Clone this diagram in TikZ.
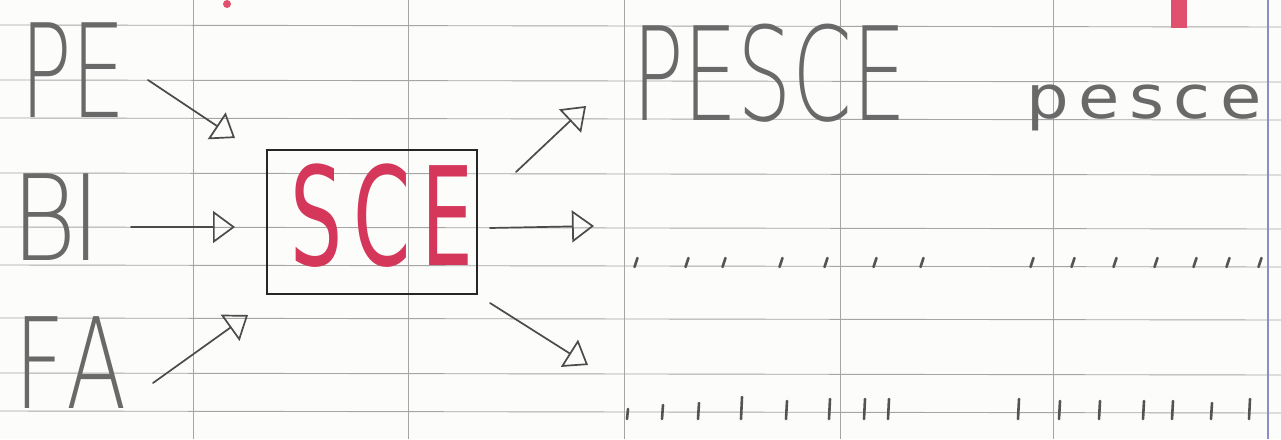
\documentclass[tikz,border=0pt]{standalone}
\usepackage{fontspec}
\usetikzlibrary{arrows.meta,calc}
\def\thinname{DejaVu Sans}
\IfFontExistsTF{Lato Light}{\def\thinname{Lato Light}}{}
\IfFontExistsTF{Fira Sans Light}{\def\thinname{Fira Sans Light}}{}
\IfFontExistsTF{Fira Sans ExtraLight}{\def\thinname{Fira Sans ExtraLight}}{}
\IfFontExistsTF{DejaVu Sans ExtraLight}{\def\thinname{DejaVu Sans ExtraLight}}{}
\IfFontExistsTF{DejaVuSans-ExtraLight.ttf}{\def\thinname{DejaVuSans-ExtraLight.ttf}}{}
\newfontfamily\pencil{\thinname}[FakeStretch=0.66]
\newfontfamily\pencilB{\thinname}[FakeStretch=0.84,LetterSpace=-5]
\newfontfamily\pencilF{\thinname}[FakeStretch=0.7,LetterSpace=8]
\newfontfamily\pencilw{DejaVu Sans}[FakeStretch=1.12,LetterSpace=16]
\newfontfamily\marker{DejaVu Sans}[FakeStretch=0.6,LetterSpace=8]
\definecolor{paper}{RGB}{252,252,250}
\definecolor{gridc}{RGB}{165,165,165}
\definecolor{margin}{RGB}{140,140,200}
\definecolor{pencilc}{RGB}{105,105,105}
\definecolor{arrowc}{RGB}{75,75,75}
\definecolor{redc}{RGB}{212,55,90}
\definecolor{pinkc}{RGB}{225,80,110}
\tikzset{
  gridline/.style={draw=gridc, line width=0.9pt},
  pen/.style={inner sep=0pt, outer sep=0pt, anchor=base west, text=pencilc},
  arr/.style={draw=arrowc, line width=1.7pt, line cap=round,
    -{Triangle[open, length=22pt, width=32pt, line width=1.7pt]}},
  tick/.style={draw=pencilc!80!black, line width=2.6pt, line cap=round},
  boxstyle/.style={draw=black!85, line width=1.7pt, inner sep=0pt,
    minimum width=210pt, minimum height=144pt}
}
\begin{document}
\begin{tikzpicture}[x=1pt,y=-1pt]
\fill[paper] (0,0) rectangle (1281,439);
\useasboundingbox (0,0) rectangle (1281,439);
% grid
\foreach \y in {25,80,118,173,227,265,318,373,411}
  \draw[gridline] (0,\y) -- (1281,\y+2);
\foreach \x in {193,408,624,840,1053}
  \draw[gridline] (\x,0) -- (\x,439);
\draw[draw=margin, line width=1.2pt] (1268,0) -- (1268,439);
% pink marks
\fill[pinkc] (227,4) circle (4pt);
\fill[pinkc] (1171,0) rectangle (1187,28);
% syllables
\node[pen] (pe) at (20,117) {\pencil\fontsize{130}{130}\selectfont PE};
\node[pen] (bi) at (12,260) {\pencilB\fontsize{119}{119}\selectfont BI};
\node[pen] (fa) at (14,408) {\pencilF\fontsize{126}{126}\selectfont FA};
% box and SCE
\node[boxstyle] (box) at (372,222) {};
\node[inner sep=0pt, outer sep=0pt, anchor=base west, text=redc] (sce) at (290,265)
  {\marker\fontsize{137}{137}\selectfont SCE};
% words
\node[pen] (pesce) at (632,120) {\pencil\fontsize{130}{130}\selectfont PESCE};
\node[pen] (pescel) at (1026,118) {\pencilw\fontsize{60}{60}\selectfont pesce};
% connector ends
\coordinate (pe-out) at (148,80);
\coordinate (pe-in) at (235,138);
\coordinate (bi-out) at (131,227);
\coordinate (bi-in) at (235,227);
\coordinate (fa-out) at (153,383);
\coordinate (fa-in) at (248,315);
\coordinate (up-out) at (516,172);
\coordinate (up-in) at (586,106);
\coordinate (mid-out) at (490,228);
\coordinate (mid-in) at (594,226);
\coordinate (low-out) at (490,303);
\coordinate (low-in) at (588,365);
\draw[arr] (pe-out) -- (pe-in);
\draw[arr] (bi-out) -- (bi-in);
\draw[arr] (fa-out) -- (fa-in);
\draw[arr] (up-out) -- (up-in);
\draw[arr] (mid-out) -- (mid-in);
\draw[arr] (low-out) -- (low-in);
% writing ticks
\foreach \x in {636,687,724,781,826,875,922,1032,1073,1115,1156,1195,1228,1260}
  \draw[tick] (\x-1.5,267) -- (\x+1.5,258);
\foreach \x/\h in {627/10,662/14,698/16,741/22,786/18,829/20,864/20,888/20,1018/20,1059/18,1099/18,1143/18,1172/18,1211/16,1249/20}
  \draw[tick] (\x,419) -- (\x+1,419-\h);
\end{tikzpicture}
\end{document}
